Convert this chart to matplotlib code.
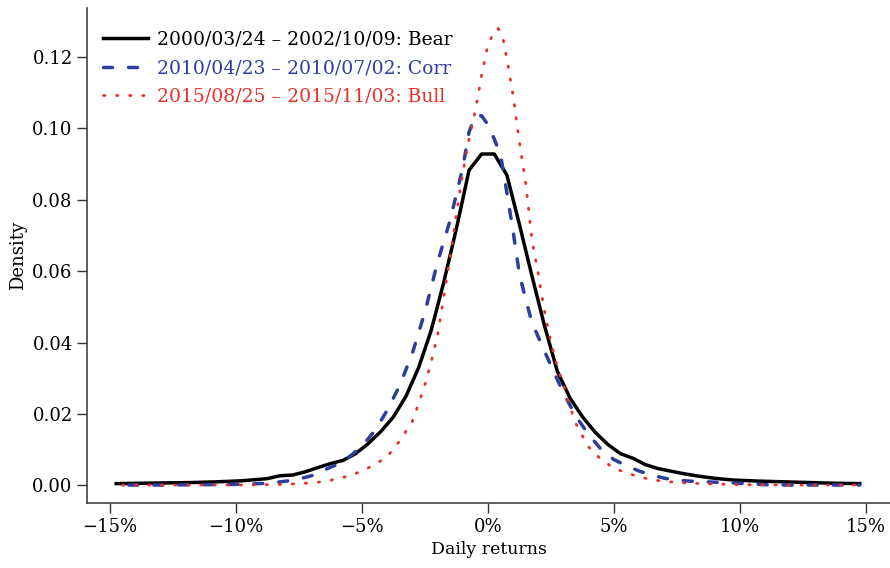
import numpy as np
import matplotlib
matplotlib.use("Agg")
import matplotlib.pyplot as plt
from matplotlib.ticker import FuncFormatter

# daily returns (%) and estimated densities
bear_x = [-14.75, -13.75, -12.75, -11.75, -10.75, -9.75, -9.25, -8.75, -8.25, -7.75,
          -7.25, -6.75, -6.25, -5.75, -5.25, -4.75, -4.25, -3.75, -3.25, -2.75,
          -2.25, -1.75, -1.25, -0.75, -0.25, 0.25, 0.75, 1.25, 1.75, 2.25,
          2.75, 3.25, 3.75, 4.25, 4.75, 5.25, 5.75, 6.25, 6.75, 7.25,
          7.75, 8.25, 8.75, 9.25, 9.75, 10.75, 11.75, 12.75, 13.75, 14.75]
bear_y = [0.0005, 0.0006, 0.0007, 0.0008, 0.0010, 0.0013, 0.0016, 0.0019, 0.0027, 0.0029,
          0.0038, 0.0050, 0.0061, 0.0070, 0.0089, 0.0117, 0.0151, 0.0192, 0.0250, 0.0330,
          0.0435, 0.0570, 0.0720, 0.0883, 0.0928, 0.0928, 0.0869, 0.0730, 0.0585, 0.0445,
          0.0320, 0.0245, 0.0192, 0.0149, 0.0115, 0.0089, 0.0076, 0.0058, 0.0047, 0.0040,
          0.0033, 0.0027, 0.0022, 0.0018, 0.0015, 0.0012, 0.0010, 0.0008, 0.0006, 0.0005]

corr_x = [-14.25, -12.75, -11.25, -9.75, -8.75, -8.0, -7.5, -7.0, -6.5, -6.0,
          -5.5, -5.0, -4.5, -4.0, -3.5, -3.0, -2.5, -2.0, -1.5, -1.0,
          -0.75, -0.5, -0.25, 0.0, 0.25, 0.5, 0.75, 1.0, 1.25, 1.5,
          1.75, 2.0, 2.5, 3.0, 3.5, 4.0, 4.5, 5.0, 5.5, 6.0,
          6.5, 7.0, 7.5, 8.0, 9.0, 10.0, 11.0, 12.0, 13.0, 14.75]
corr_y = [0.0001, 0.0001, 0.0002, 0.0003, 0.0006, 0.0012, 0.0018, 0.0027, 0.0043, 0.0058,
          0.0080, 0.0110, 0.0152, 0.0210, 0.0280, 0.0370, 0.0486, 0.0625, 0.0743, 0.0890,
          0.0990, 0.1035, 0.1035, 0.1010, 0.0970, 0.0925, 0.0820, 0.0710, 0.0590, 0.0520,
          0.0455, 0.0415, 0.0335, 0.0258, 0.0192, 0.0142, 0.0100, 0.0072, 0.0055, 0.0040,
          0.0029, 0.0020, 0.0015, 0.0012, 0.0009, 0.0006, 0.0002, 0.0001, 0.0001, 0.0001]

bull_x = [-14.5, -12.0, -10.0, -9.0, -8.0, -7.5, -7.0, -6.5, -6.0, -5.5,
          -5.0, -4.5, -4.0, -3.5, -3.0, -2.75, -2.5, -2.25, -2.0, -1.75,
          -1.5, -1.25, -1.0, -0.75, -0.5, -0.25, 0.0, 0.25, 0.4, 0.6,
          0.8, 1.0, 1.25, 1.5, 1.75, 2.0, 2.25, 2.5, 2.75, 3.0,
          3.25, 3.5, 3.75, 4.0, 4.5, 5.0, 5.5, 6.0, 6.5, 7.0,
          8.0, 9.0, 10.0, 12.0, 14.75]
bull_y = [0.0001, 0.0001, 0.0001, 0.0002, 0.0003, 0.0005, 0.0007, 0.0011, 0.0018, 0.0027,
          0.0040, 0.0058, 0.0080, 0.0125, 0.0179, 0.0230, 0.0282, 0.0347, 0.0420, 0.0530,
          0.0640, 0.0760, 0.0875, 0.0970, 0.1050, 0.1149, 0.1235, 0.1270, 0.1280, 0.1250,
          0.1175, 0.1090, 0.0960, 0.0845, 0.0685, 0.0590, 0.0485, 0.0400, 0.0332, 0.0280,
          0.0220, 0.0172, 0.0138, 0.0107, 0.0072, 0.0048, 0.0035, 0.0024, 0.0016, 0.0011,
          0.0006, 0.0004, 0.0002, 0.0001, 0.0001]

labels = ['2000/03/24 \u2013 2002/10/09: Bear',
          '2010/04/23 \u2013 2010/07/02: Corr',
          '2015/08/25 \u2013 2015/11/03: Bull']
colors = ['black', '#2c3e9e', '#e8312a']

plt.rcParams['font.family'] = ['DejaVu Serif']

fig = plt.figure(figsize=(8.9, 5.68), dpi=100)
ax = fig.add_axes([0.098, 0.114, 0.902, 0.872])

ax.plot(bear_x, bear_y, color=colors[0], lw=2.5, ls='-', label=labels[0])
ax.plot(corr_x, corr_y, color=colors[1], lw=2.5, ls=(0, (2.6, 4.6)),
        dash_capstyle='round', label=labels[1])
ax.plot(bull_x, bull_y, color=colors[2], lw=2.0, ls=(0, (0.5, 4.2)),
        dash_capstyle='round', label=labels[2])

ax.set_xlim(-15.9, 15.95)
ax.set_ylim(-0.005, 0.1337)
ax.set_xticks([-15, -10, -5, 0, 5, 10, 15])
ax.set_yticks([0.0, 0.02, 0.04, 0.06, 0.08, 0.10, 0.12])
ax.xaxis.set_major_formatter(FuncFormatter(lambda v, p: f'{int(v)}%'.replace('-', '\u2212')))
ax.yaxis.set_major_formatter(FuncFormatter(lambda v, p: f'{v:.2f}'))
ax.tick_params(labelsize=13, length=7, width=1, color='#333333')

for s in ['top', 'right']:
    ax.spines[s].set_visible(False)
for s in ['left', 'bottom']:
    ax.spines[s].set_color('#444444')
    ax.spines[s].set_linewidth(1.2)

ax.set_xlabel('Daily returns', fontsize=12.5)
ax.set_ylabel('Density', fontsize=13)

leg = ax.legend(loc='upper left', frameon=False, fontsize=13.5, handlelength=2.4,
                handletextpad=0.5, labelspacing=0.55, borderaxespad=0.42,
                bbox_to_anchor=(0.0, 0.985))
for t, c in zip(leg.get_texts(), colors):
    t.set_color(c)

plt.savefig('out.png', dpi=100)
